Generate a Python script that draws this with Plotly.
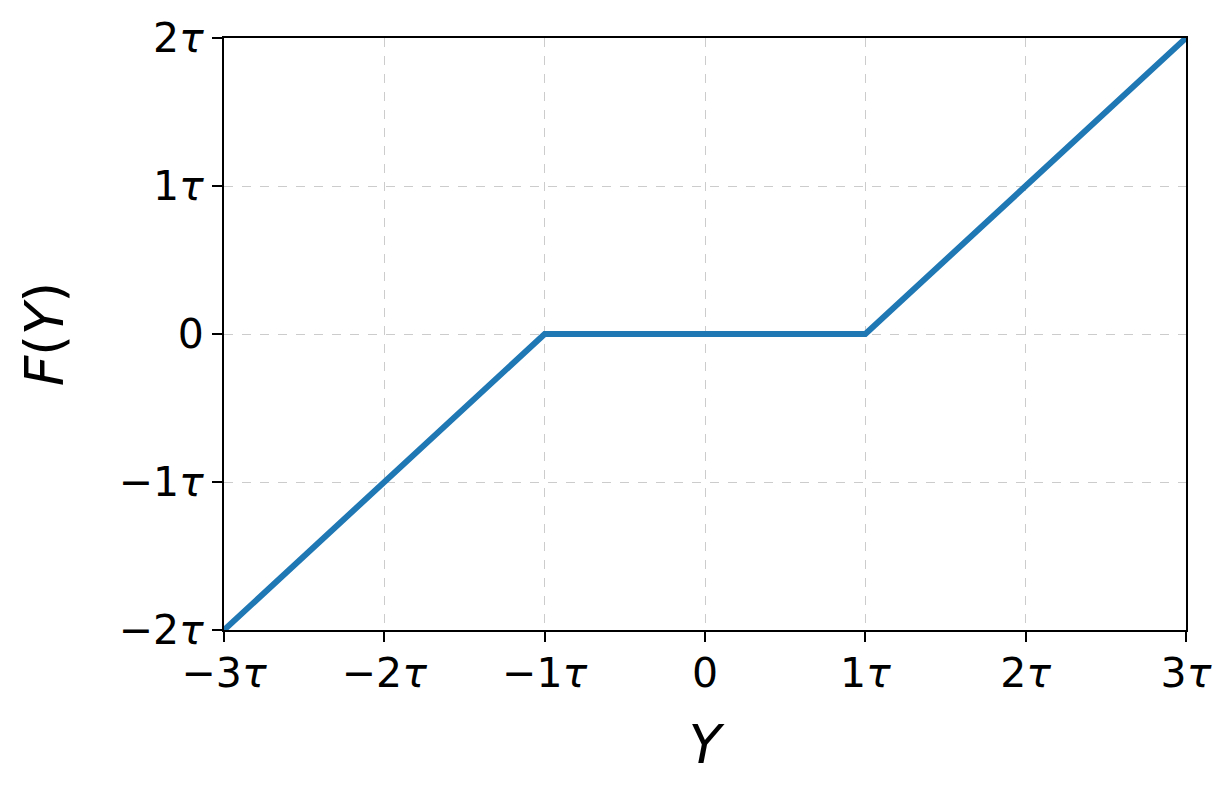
import plotly.graph_objects as go

# Data in units of tau
y_in = [-3, -1, 1, 3]
f_out = [-2, 0, 0, 2]
x_tickvals = [-3, -2, -1, 0, 1, 2, 3]
x_ticktext = ["−3<i>τ</i>", "−2<i>τ</i>", "−1<i>τ</i>", "0", "1<i>τ</i>", "2<i>τ</i>", "3<i>τ</i>"]
y_tickvals = [-2, -1, 0, 1, 2]
y_ticktext = ["−2<i>τ</i>", "−1<i>τ</i>", "0", "1<i>τ</i>", "2<i>τ</i>"]

fig = go.Figure()
fig.add_trace(go.Scatter(x=y_in, y=f_out, mode="lines",
                         line=dict(color="#1f77b4", width=6)))

font = "DejaVu Sans"
common = dict(showline=True, linecolor="black", linewidth=2, mirror=True,
              ticks="outside", ticklen=10, tickwidth=2, tickcolor="black",
              showgrid=True, gridcolor="#cccccc", griddash="dash", gridwidth=1,
              zeroline=False, automargin=False,
              tickfont=dict(family=font, size=41, color="black"))

fig.update_xaxes(range=[-3, 3], tickvals=x_tickvals, ticktext=x_ticktext,
                 ticklabelstandoff=-4,
                 title=dict(text="<i>Y</i>", font=dict(family=font, size=53, color="black"), standoff=30),
                 **common)
fig.update_yaxes(range=[-2, 2], tickvals=y_tickvals, ticktext=y_ticktext,
                 title=dict(text="<i>F</i>(<i>Y</i>)", font=dict(family=font, size=53, color="black"), standoff=38),
                 **common)

fig.update_layout(width=1220, height=790, margin=dict(l=216, r=42, t=30, b=168),
                  plot_bgcolor="white", paper_bgcolor="white", showlegend=False)

fig.write_html("out.html")
